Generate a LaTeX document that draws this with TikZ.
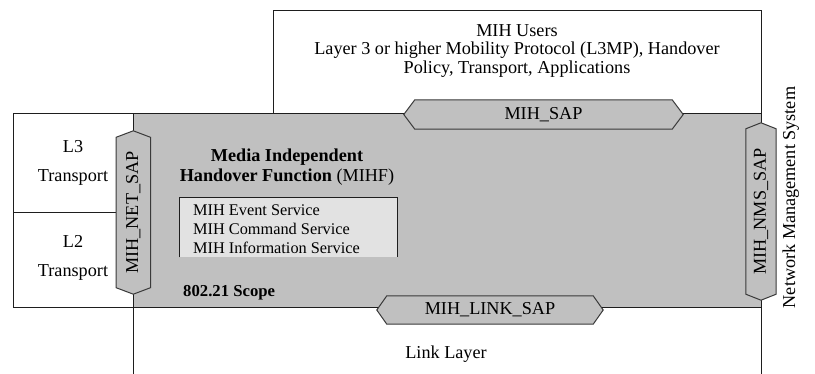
\documentclass[tikz,border=0pt]{standalone}
\usepackage{fontspec}
\usepackage{graphicx}
\setmainfont{Liberation Serif}
\pgfdeclarelayer{back}
\pgfdeclarelayer{hex}
\pgfsetlayers{back,hex,main}
\definecolor{scopegray}{HTML}{C0C0C0}
\definecolor{svcfill}{HTML}{E2E2E2}
\definecolor{edge}{HTML}{1E1E1E}
\definecolor{hexedge}{HTML}{3A3A3A}
\tikzset{
  frame/.style={draw=edge, line width=1pt},
  txt/.style={inner sep=0pt, font=\fontsize{18.2}{18.5}\selectfont},
  sap/.style={inner sep=0pt, font=\fontsize{18.2}{20}\selectfont},
  hexline/.style={draw=hexedge, fill=scopegray, line width=1pt, line join=miter},
  svcbox/.style={fill=svcfill, inner sep=0pt},
  svcframe/.style={draw=edge, line width=1pt},
  svctxt/.style={inner sep=0pt, font=\fontsize{16.3}{19}\selectfont},
  scopetxt/.style={inner sep=0pt, font=\fontsize{16.7}{19}\selectfont\bfseries},
}
\begin{document}
\begin{tikzpicture}[x=1pt, y=-1pt]
\useasboundingbox (0,0) rectangle (815,374);

% frames of the layers
\begin{pgfonlayer}{back}
  \fill[white] (0,0) rectangle (815,374);
  % MIH users block
  \draw[frame] (273,114) -- (273,11) -- (761,11) -- (761,114);
  % 802.21 scope
  \draw[frame, fill=scopegray] (133,114) rectangle (761,308);
  % L3 / L2 transport blocks
  \draw[frame] (133,114) -- (13,114) -- (13,308) -- (133,308);
  \draw[frame] (13,213) -- (133,213);
  % link layer boundaries
  \coordinate (lbot) at (133,374);
  \coordinate (rbot) at (761,374);
  \draw[frame] (133,308) -- (lbot);
  \draw[frame] (761,308) -- (rbot);
\end{pgfonlayer}

% service list
\node[svcbox, anchor=north west, minimum width=218pt, minimum height=59pt] (svc) at (179,198) {};
\draw[svcframe] (svc.south west) -- (svc.north west) -- (svc.north east) -- (svc.south east);
\node[svctxt, align=left, anchor=north west] (svctext) at (193,204.2)
  {MIH Event Service\\MIH Command Service\\MIH Information Service};

% texts
\node[txt, align=center, anchor=north] (users) at (517,24)
  {MIH Users\\Layer 3 or higher Mobility Protocol (L3MP), Handover\\Policy, Transport, Applications};
\node[txt, align=center, anchor=north, font=\fontsize{18.2}{20}\selectfont] (mihf) at (287,148.6)
  {\textbf{Media Independent}\\\textbf{Handover Function} (MIHF)};
\node[scopetxt, anchor=base west] (scope) at (183,297) {802.21 Scope};
\node[txt, align=center, anchor=north, font=\fontsize{18.2}{29}\selectfont] (l3) at (73,140) {L3\\Transport};
\node[txt, align=center, anchor=north, font=\fontsize{18.2}{29}\selectfont] (l2) at (73,235) {L2\\Transport};
\node[txt, anchor=base] (link) at (446,359) {Link Layer};
\node[txt, rotate=90, anchor=base] (nms) at (795,197.5) {Network Management System};

% service access points
\node[sap, minimum width=279pt, minimum height=29pt] (sap) at (543.5,114.5) {MIH\_SAP};
\node[sap, minimum width=226pt, minimum height=28pt] (linksap) at (490,310) {MIH\_LINK\_SAP};
\node[sap, minimum width=34pt, minimum height=163pt] (netsap) at (133.3,212.5) {\rotatebox{90}{MIH\_NET\_SAP}};
\node[sap, minimum width=30pt, minimum height=177pt] (nmssap) at (761,211.5) {\rotatebox{90}{MIH\_NMS\_SAP}};

\begin{pgfonlayer}{hex}
  \path[hexline] (sap.west) -- ([xshift=11pt]sap.north west) -- ([xshift=-11pt]sap.north east)
    -- (sap.east) -- ([xshift=-11pt]sap.south east) -- ([xshift=11pt]sap.south west) -- cycle;
  \path[hexline] (linksap.west) -- ([xshift=10pt]linksap.north west) -- ([xshift=-10pt]linksap.north east)
    -- (linksap.east) -- ([xshift=-10pt]linksap.south east) -- ([xshift=10pt]linksap.south west) -- cycle;
  \path[hexline] (netsap.north) -- ([yshift=-6.5pt]netsap.north east) -- ([yshift=6.5pt]netsap.south east)
    -- (netsap.south) -- ([yshift=6.5pt]netsap.south west) -- ([yshift=-6.5pt]netsap.north west) -- cycle;
  \path[hexline] (nmssap.north) -- ([yshift=-6pt]nmssap.north east) -- ([yshift=6pt]nmssap.south east)
    -- (nmssap.south) -- ([yshift=6pt]nmssap.south west) -- ([yshift=-6pt]nmssap.north west) -- cycle;
\end{pgfonlayer}
\end{tikzpicture}
\end{document}
